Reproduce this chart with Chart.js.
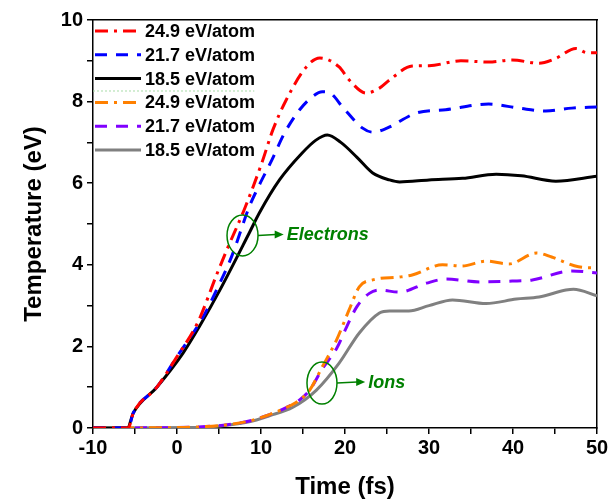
<!DOCTYPE html>
<html>
<head>
<meta charset="utf-8">
<script src="https://cdn.jsdelivr.net/npm/chart.js@4.4.1/dist/chart.umd.min.js"></script>
<style>
  html, body { margin: 0; padding: 0; background: #fff; }
  #wrap { width: 612px; height: 502px; position: relative; }
</style>
</head>
<body>
<div id="wrap"><canvas id="tempChart"></canvas></div>
<script>
// electrons
const redTime = [-10, -5.8, -5.2, -2.4, 0, 2.5, 4.8, 6, 8, 10.1, 11.4, 13, 15.4, 17, 19.3, 20.5, 22.5, 24.1, 25.3, 28, 30, 33.8, 37.1, 39.9, 43.1, 45, 47.5, 48.8, 50];
const redTemp = [0, 0, 0.37, 1.0, 1.75, 2.6, 3.8, 4.4, 5.35, 6.5, 7.3, 8.04, 8.85, 9.07, 8.85, 8.53, 8.21, 8.33, 8.53, 8.87, 8.88, 9.0, 8.97, 9.02, 8.94, 9.05, 9.3, 9.2, 9.2];

const blueTime = [-10, -5.8, -5.2, -2.4, 0, 3.1, 4.7, 6.5, 8.6, 9.5, 11.3, 12.8, 14.6, 16, 17.3, 18.3, 19.7, 22.1, 23.3, 25, 28.5, 32, 37.1, 40.7, 43.9, 47, 50];
const blueTemp = [0, 0, 0.37, 1.0, 1.75, 2.72, 3.38, 4.2, 5.42, 5.83, 6.57, 7.23, 7.8, 8.1, 8.24, 8.2, 7.87, 7.35, 7.25, 7.35, 7.72, 7.8, 7.94, 7.84, 7.77, 7.84, 7.87];

const blackTime = [-10, -5.9, -5.2, -2.4, 0.7, 2.7, 5.1, 8.6, 9.8, 12.2, 14.9, 16.5, 17.9, 19.5, 21.4, 23.3, 25.3, 26.5, 30, 34, 38, 41, 45.1, 50];
const blackTemp = [0, 0, 0.37, 1.0, 1.83, 2.5, 3.38, 4.78, 5.27, 6.08, 6.74, 7.05, 7.18, 7.0, 6.64, 6.25, 6.08, 6.03, 6.08, 6.12, 6.22, 6.18, 6.05, 6.17];

// ions
const orangeTime = [-10, 0, 3, 6, 8.6, 11, 13, 14.6, 15.8, 17.3, 19, 20.5, 21.7, 23.3, 26.5, 28, 31.6, 33.9, 36.8, 39.5, 42.8, 44.6, 47.8, 50];
const orangeTemp = [0, 0.01, 0.03, 0.08, 0.17, 0.33, 0.5, 0.69, 0.93, 1.5, 2.16, 2.9, 3.46, 3.63, 3.7, 3.75, 4.0, 3.97, 4.09, 4.02, 4.29, 4.19, 3.95, 3.92];

const purpleTime = [-10, 0, 3, 6, 8.6, 11, 13, 14.6, 15.8, 17.3, 19, 20.2, 21.4, 22.9, 24.1, 26.5, 29.7, 32, 36, 39.9, 42.3, 47, 50];
const purpleTemp = [0, 0.01, 0.03, 0.08, 0.17, 0.33, 0.5, 0.69, 0.93, 1.45, 1.95, 2.48, 2.97, 3.3, 3.38, 3.33, 3.55, 3.65, 3.58, 3.6, 3.63, 3.85, 3.8];

const grayTime = [-10, 2, 5, 8.6, 11, 13.8, 16.6, 19.3, 21.7, 24.1, 25.3, 27.6, 30, 32.8, 36.8, 40.4, 43.1, 46.3, 47.2, 50];
const grayTemp = [0, 0.01, 0.05, 0.15, 0.3, 0.51, 0.93, 1.59, 2.33, 2.82, 2.87, 2.87, 3.0, 3.14, 3.05, 3.16, 3.21, 3.38, 3.4, 3.24];

// legend separator line (dotted green)
const sepTime = [-10, 9.2];
const sepTemp = [8.26, 8.26];

const labels = ["24.9 eV/atom", "21.7 eV/atom", "18.5 eV/atom", "24.9 eV/atom", "21.7 eV/atom", "18.5 eV/atom"];

const FONT = "'Liberation Sans', Arial, sans-serif";
Chart.defaults.font.family = FONT;
Chart.defaults.color = "#000";

function pts(xs, ys) {
  return xs.map((x, i) => ({x: x, y: ys[i]}));
}

function line(label, xs, ys, color, dash) {
  return {
    label: label,
    data: pts(xs, ys),
    borderColor: color,
    backgroundColor: color,
    borderWidth: 3,
    borderDash: dash,
    pointRadius: 0,
    showLine: true,
    cubicInterpolationMode: "monotone",
    borderCapStyle: "butt"
  };
}

const dashDot = [13, 6, 3, 6];
const dashed = [12, 9];

const datasets = [
  line(labels[0], redTime, redTemp, "#ff0000", dashDot),
  line(labels[1], blueTime, blueTemp, "#0000ff", dashed),
  line(labels[2], blackTime, blackTemp, "#000000", []),
  line(labels[3], orangeTime, orangeTemp, "#ff8000", dashDot),
  line(labels[4], purpleTime, purpleTemp, "#8000ff", dashed),
  line(labels[5], grayTime, grayTemp, "#808080", []),
  {
    label: "sep",
    data: pts(sepTime, sepTemp),
    borderColor: "#a8dca8",
    borderWidth: 1,
    borderDash: [2, 2],
    pointRadius: 0,
    showLine: true
  }
];

// legend with line samples in the top-left corner
const lineLegend = {
  id: "lineLegend",
  afterDatasetsDraw(chart) {
    const c = chart.ctx;
    const a = chart.chartArea;
    c.save();
    c.font = "bold 18px " + FONT;
    c.textBaseline = "middle";
    for (let i = 0; i < 6; i++) {
      const ds = chart.data.datasets[i];
      const y = a.top + 11 + i * 23.8;
      c.beginPath();
      c.setLineDash(ds.borderDash);
      c.strokeStyle = ds.borderColor;
      c.lineWidth = 3;
      c.moveTo(a.left + 2, y);
      c.lineTo(a.left + 48, y);
      c.stroke();
      c.setLineDash([]);
      c.fillStyle = "#000";
      c.fillText(ds.label, a.left + 52, y + 1);
    }
    c.restore();
  }
};

// green circles, arrows and labels
const notes = [
  {text: "Electrons", cx: 7.8, cy: 4.72, rx: 15.5, ry: 20.5, tx: 12.7},
  {text: "Ions", cx: 17.26, cy: 1.1, rx: 15, ry: 21, tx: 22.4}
];

const noteMarks = {
  id: "noteMarks",
  afterDatasetsDraw(chart) {
    const c = chart.ctx;
    const xs = chart.scales.x, ys = chart.scales.y;
    c.save();
    c.strokeStyle = "#008000";
    c.fillStyle = "#008000";
    c.lineWidth = 1.5;
    notes.forEach(n => {
      const px = xs.getPixelForValue(n.cx);
      const py = ys.getPixelForValue(n.cy);
      const tx = xs.getPixelForValue(n.tx);
      c.beginPath();
      c.ellipse(px, py, n.rx, n.ry, 0, 0, Math.PI * 2);
      c.stroke();
      // arrow
      c.beginPath();
      c.moveTo(px + n.rx, py);
      c.lineTo(tx - 8, py - 1);
      c.stroke();
      c.beginPath();
      c.moveTo(tx, py - 1);
      c.lineTo(tx - 9, py - 5);
      c.lineTo(tx - 9, py + 3);
      c.closePath();
      c.fill();
      c.font = "italic bold 18px " + FONT;
      c.textBaseline = "middle";
      c.fillText(n.text, tx + 3, py);
    });
    c.restore();
  }
};

const ctx = document.getElementById("tempChart").getContext("2d");
const tempChart = new Chart(ctx, {
  type: "scatter",
  data: { datasets: datasets },
  options: {
    responsive: true,
    maintainAspectRatio: false,
    animation: false,
    layout: { padding: { top: 20, right: 15, left: 0, bottom: 0 } },
    plugins: {
      legend: { display: false },
      tooltip: { enabled: false }
    },
    scales: {
      x: {
        type: "linear",
        min: -10,
        max: 50,
        afterFit: s => { s.height = 74; },
        border: { display: true, color: "#000", width: 1.5 },
        grid: { display: true, drawOnChartArea: false, color: "#000", tickLength: 6, lineWidth: 1.5 },
        ticks: {
          stepSize: 5,
          padding: 2,
          font: { size: 20, weight: "bold" },
          callback: v => (v % 10 === 0 ? v : "")
        },
        title: {
          display: true,
          text: "Time (fs)",
          font: { size: 24, weight: "bold" },
          padding: { top: 0, bottom: 0 }
        }
      },
      y: {
        type: "linear",
        min: 0,
        max: 10,
        afterFit: s => { s.width = 93; },
        border: { display: true, color: "#000", width: 1.5 },
        grid: { display: true, drawOnChartArea: false, color: "#000", tickLength: 6, lineWidth: 1.5 },
        ticks: {
          stepSize: 1,
          padding: 4,
          font: { size: 20, weight: "bold" },
          callback: v => (v % 2 === 0 ? v : "")
        },
        title: {
          display: true,
          text: "Temperature (eV)",
          font: { size: 24, weight: "bold" },
          padding: { top: 20, bottom: 0 }
        }
      },
      x2: {
        type: "linear",
        position: "top",
        min: -10,
        max: 50,
        afterFit: s => { s.height = 0; },
        border: { display: true, color: "#000", width: 1.5 },
        grid: { display: false },
        ticks: { display: false }
      },
      y2: {
        type: "linear",
        position: "right",
        min: 0,
        max: 10,
        afterFit: s => { s.width = 0; },
        border: { display: true, color: "#000", width: 1.5 },
        grid: { display: false },
        ticks: { display: false }
      }
    }
  },
  plugins: [lineLegend, noteMarks]
});
</script>
</body>
</html>
